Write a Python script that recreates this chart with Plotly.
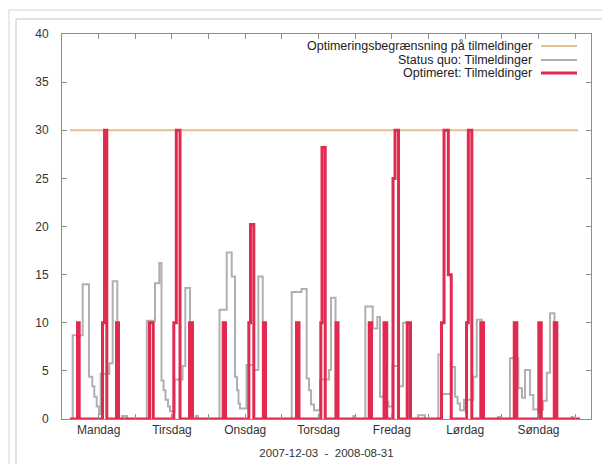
import plotly.graph_objects as go

# ---- data (hours within the week, value) ----
day_labels = ["Mandag", "Tirsdag", "Onsdag", "Torsdag", "Fredag", "Lørdag", "Søndag"]
day_centers = [12, 36, 60, 84, 108, 132, 156]
date_title = "2007-12-03  -  2008-08-31"

limit_t = [2.6, 169.0]
limit_v = [30, 30]

red_t = [2.6, 5.08, 5.63, 13.26, 13.92, 14.67, 17.85, 18.50,
         28.65, 29.86, 36.61, 37.43, 38.64, 41.75, 42.73,
         52.78, 53.54, 61.17, 61.72, 62.80, 65.98, 66.63,
         76.78, 77.60, 84.74, 85.13, 86.18, 89.72, 90.37,
         100.59, 101.34, 105.44, 106.32, 108.38, 109.04, 110.18, 113.03, 114.11,
         124.26, 125.08, 126.49, 127.44, 132.45, 133.04, 134.18, 137.13, 138.01,
         148.07, 148.92, 156.12, 156.91, 161.17, 162.02, 169.6]
red_v = [0, 10, 0, 10, 30, 0, 10, 0,
         10, 0, 10, 30, 0, 10, 0,
         10, 0, 10, 20.2, 0, 10, 0,
         10, 0, 10, 28.2, 0, 10, 0,
         10, 0, 10, 0, 25, 30, 0, 10, 0,
         10, 30, 15, 0, 10, 30, 0, 10, 0,
         10, 0, 10, 0, 10, 0, 0]

grey_t = [2.6, 3.50, 6.78, 8.84, 9.92, 10.58, 11.36, 12.12, 12.67, 15.49, 16.60, 18.11, 19.65, 21.28,
          27.77, 30.45, 31.86, 32.58, 33.24, 33.89, 34.71, 35.36, 36.84, 39.46, 40.37, 41.91, 43.88, 44.53,
          51.57, 53.93, 55.57, 56.65, 57.30, 57.79, 58.28, 60.41, 62.77, 64.28, 65.72,
          75.21, 78.42, 80.12, 80.88, 81.53, 82.51, 84.48, 87.43, 88.08, 89.56, 95.38, 95.94,
          99.31, 101.74, 103.24, 104.13, 105.44, 106.84, 108.22, 110.35, 111.66, 113.46, 116.57, 118.86,
          123.22, 124.10, 127.54, 128.68, 129.50, 130.32, 131.63, 134.68, 135.79, 137.43, 142.76, 143.42,
          146.69, 149.41, 150.62, 151.60, 153.24, 154.32, 157.50, 158.71, 159.79, 161.26, 166.89, 167.32, 169.6]
grey_v = [0, 8.7, 14.0, 4.4, 3.4, 2.3, 1.3, 0.5, 4.7, 5.8, 14.3, 0, 0.3, 0,
          10.2, 14.1, 16.2, 4.0, 3.0, 2.0, 1.3, 0.8, 4.1, 5.5, 13.6, 0, 0.3, 0,
          11.35, 17.3, 14.8, 4.4, 3.0, 1.6, 1.1, 5.6, 5.1, 14.8, 0,
          13.2, 13.5, 4.2, 3.0, 1.5, 0.9, 4.1, 5.1, 12.6, 0, 0.3, 0,
          11.7, 9.4, 10.6, 2.3, 1.8, 1.3, 5.5, 3.4, 10.0, 0, 0.4, 0,
          6.7, 2.6, 5.4, 2.3, 1.6, 0.9, 2.0, 4.4, 10.3, 0, 0.2, 0,
          6.3, 3.2, 2.2, 5.1, 2.5, 1.0, 1.9, 4.8, 11.0, 0, 0.2, 0, 0]

names = ["Optimeringsbegrænsning på tilmeldinger",
         "Status quo: Tilmeldinger",
         "Optimeret: Tilmeldinger"]
colors = ["#e6bf8e", "#b0b0b0", "#e2294f"]
widths = [2, 2, 3]

FONT = "Liberation Sans, Arial, sans-serif"

fig = go.Figure()
fig.add_trace(go.Scatter(x=limit_t, y=limit_v, mode="lines",
                         line=dict(color=colors[0], width=widths[0]), showlegend=False))
fig.add_trace(go.Scatter(x=grey_t, y=grey_v, mode="lines", line_shape="hv",
                         line=dict(color=colors[1], width=widths[1]), showlegend=False))
fig.add_trace(go.Scatter(x=red_t, y=red_v, mode="lines", line_shape="hv",
                         line=dict(color=colors[2], width=widths[2]), showlegend=False))

# page coordinates of the reference (browser body margin of 8px is compensated)
OFF = 8
W, H = 610 - OFF, 464 - OFF
L, R, T, B = 62, 591, 34, 419


def px(x):
    return (x - L) / (R - L)


def py(y):
    return (B - y) / (B - T)


shapes = []
annotations = []
# gnuplot-like key: right-aligned text with sample on its right
row_y = [46, 60, 73]
for i in range(3):
    annotations.append(dict(x=px(534), y=py(row_y[i]), xref="paper", yref="paper",
                            text=names[i], showarrow=False, xanchor="right", yanchor="middle",
                            font=dict(family=FONT, size=12.5, color="#222")))
    shapes.append(dict(type="line", xref="paper", yref="paper",
                       x0=px(541), x1=px(577), y0=py(row_y[i]), y1=py(row_y[i]),
                       line=dict(color=colors[i], width=widths[i])))

# surrounding frame
shapes += [
    dict(type="line", xref="paper", yref="paper", x0=px(9), x1=px(612), y0=py(10), y1=py(10),
         line=dict(color="#d4d4d4", width=1)),
    dict(type="line", xref="paper", yref="paper", x0=px(9), x1=px(9), y0=py(10), y1=py(466),
         line=dict(color="#d4d4d4", width=1)),
    dict(type="line", xref="paper", yref="paper", x0=px(16), x1=px(612), y0=py(19), y1=py(19),
         line=dict(color="#c4c4c4", width=1)),
    dict(type="line", xref="paper", yref="paper", x0=px(16), x1=px(16), y0=py(19), y1=py(466),
         line=dict(color="#c4c4c4", width=1)),
]

axis_col = "#8c8c8c"
fig.update_layout(
    width=W, height=H,
    margin=dict(l=L - OFF, r=610 - R, t=T - OFF, b=464 - B, autoexpand=False),
    paper_bgcolor="white", plot_bgcolor="white",
    showlegend=False,
    shapes=shapes, annotations=annotations,
    font=dict(family=FONT, color="#333"),
)
fig.update_xaxes(
    range=[0, 173.2], tickmode="array", tickvals=day_centers, ticktext=day_labels,
    ticks="inside", ticklen=5, tickcolor=axis_col, showline=True, linecolor=axis_col,
    linewidth=1, mirror="ticks", showgrid=False, zeroline=False, automargin=False,
    tickfont=dict(family=FONT, size=12, color="#333"),
    minor=dict(tickvals=[24, 48, 72, 96, 120, 144, 168], ticks="inside", ticklen=5,
               tickcolor=axis_col, showgrid=False),
    title=dict(text=date_title, font=dict(family=FONT, size=11.5, color="#333"), standoff=12),
)
fig.update_yaxes(
    range=[0, 40], tickmode="linear", tick0=0, dtick=5,
    ticks="inside", ticklen=5, tickcolor=axis_col, showline=True, linecolor=axis_col,
    linewidth=1, mirror="ticks", showgrid=False, zeroline=False, automargin=False,
    tickfont=dict(family=FONT, size=12, color="#333"), ticklabelstandoff=10,
)

fig.write_html("out.html")
